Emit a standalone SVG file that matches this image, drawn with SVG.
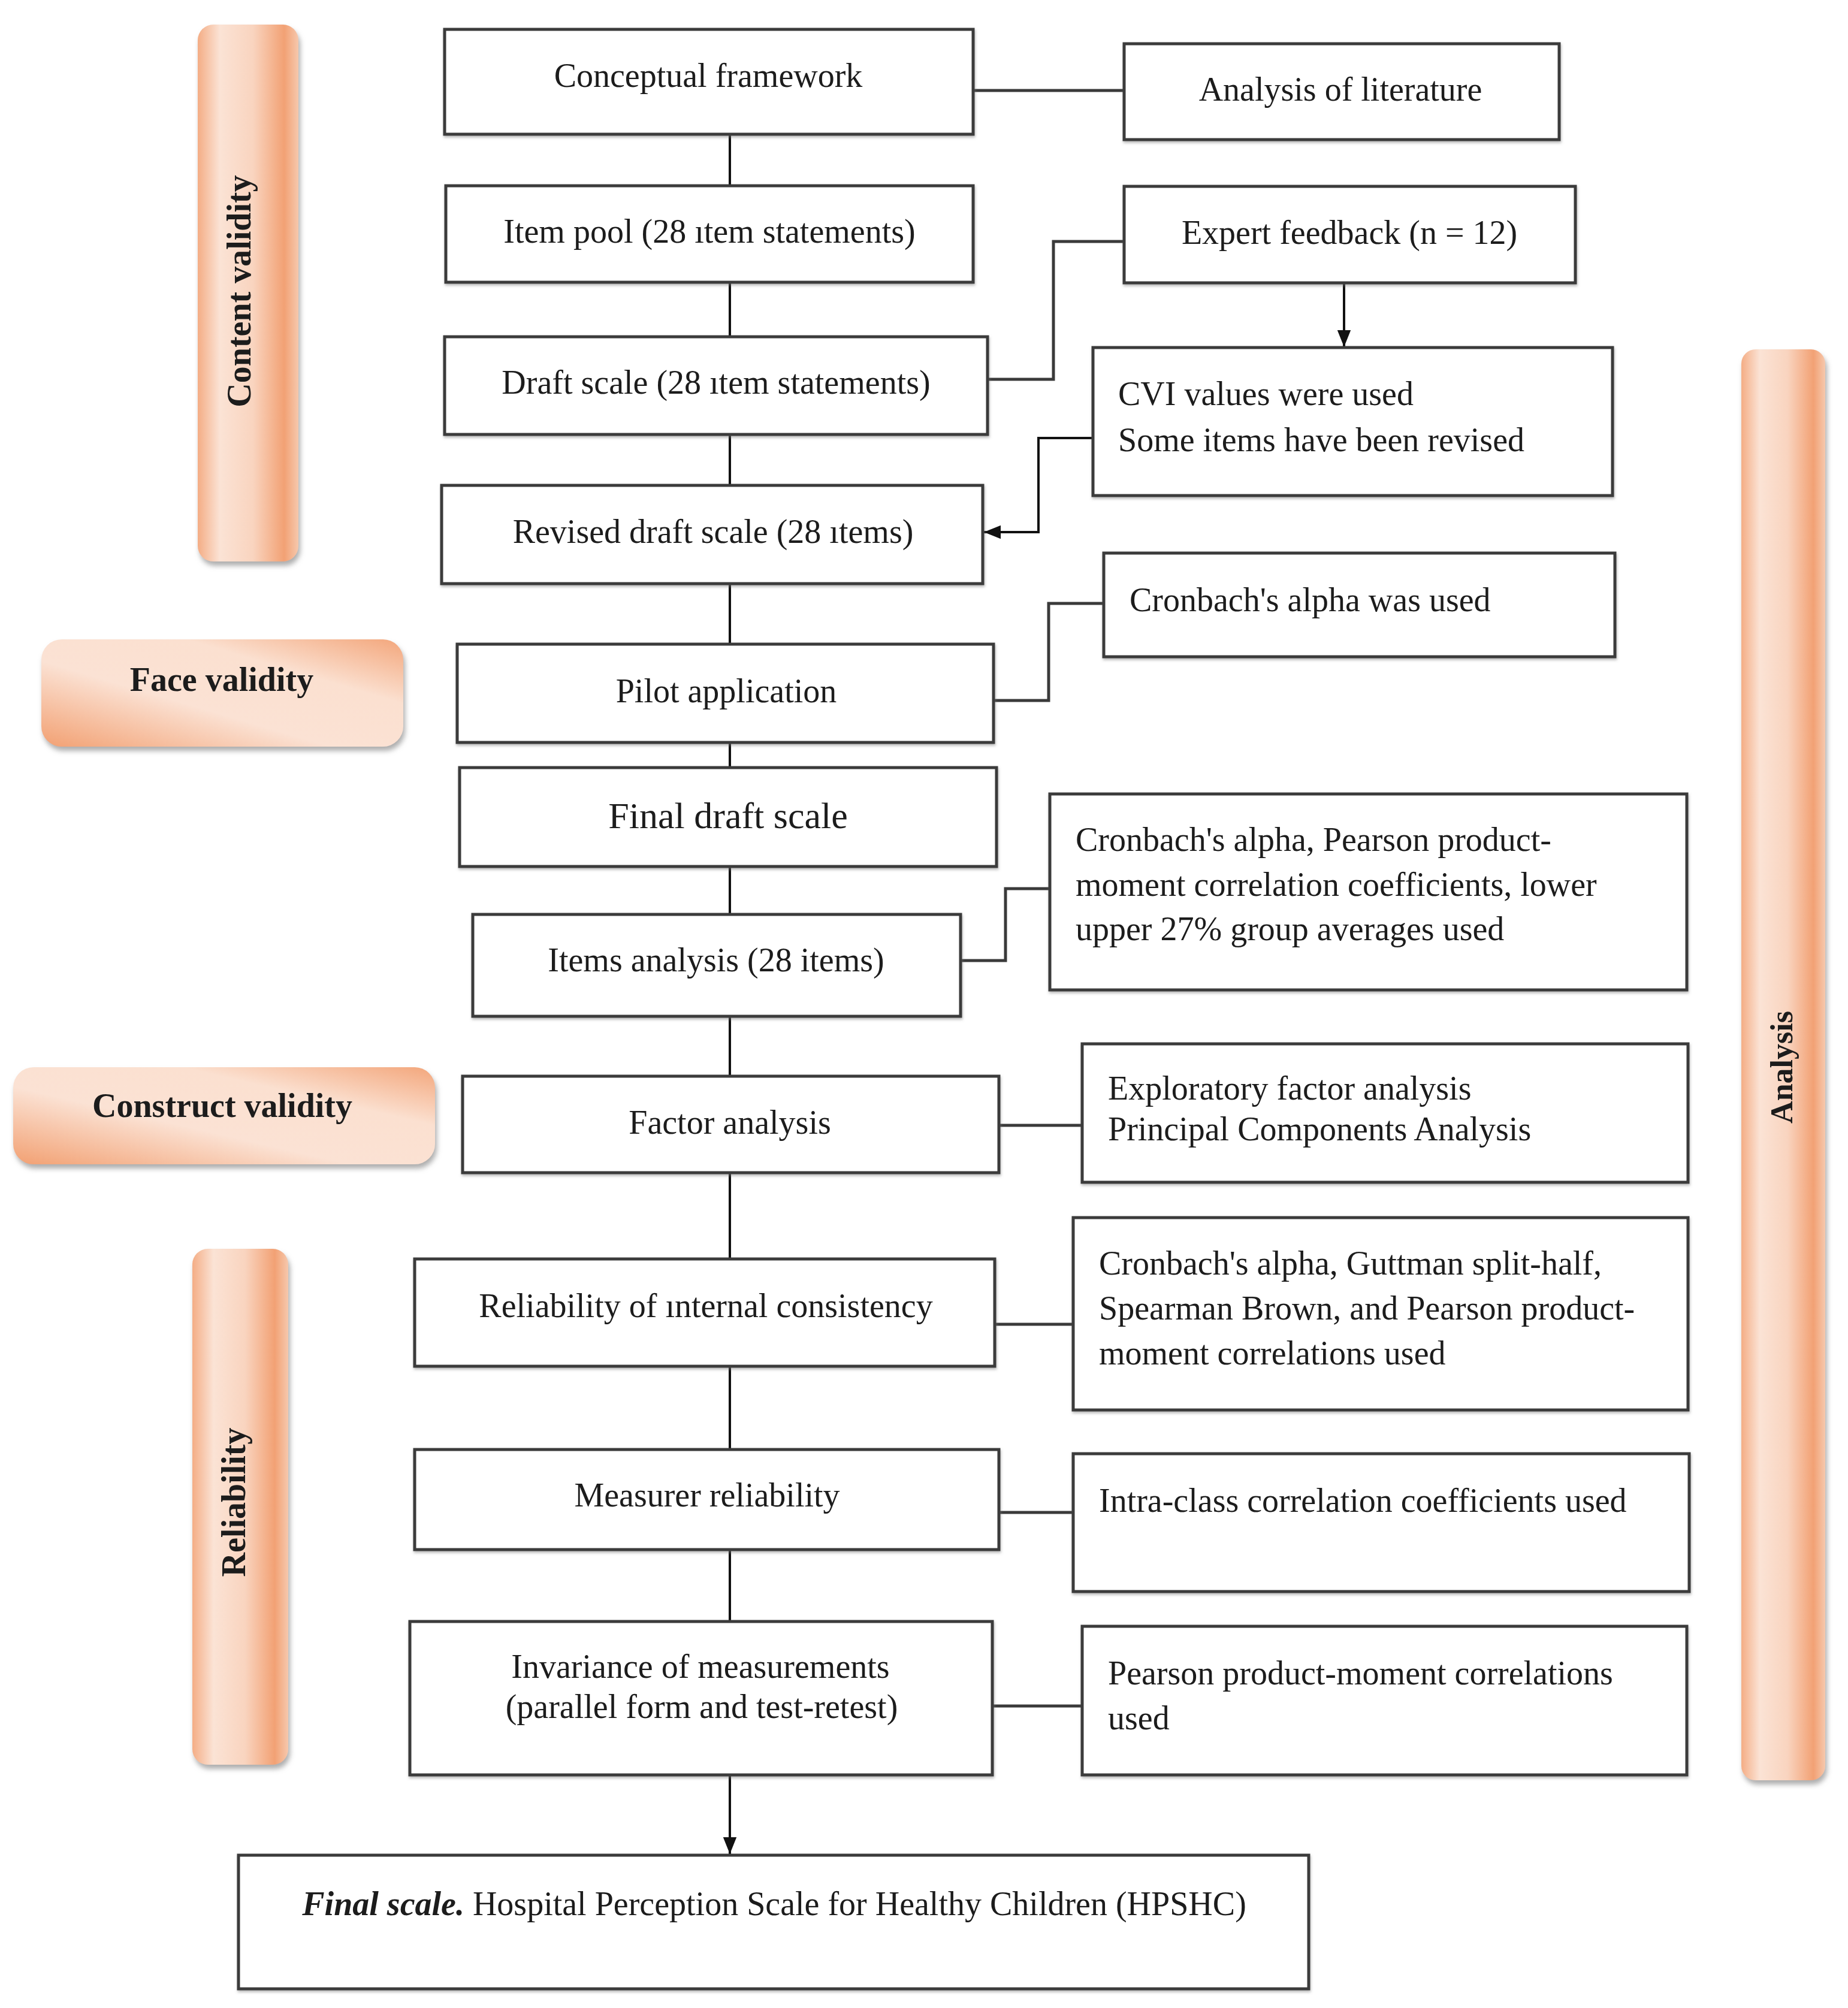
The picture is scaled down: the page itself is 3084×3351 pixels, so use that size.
<svg xmlns="http://www.w3.org/2000/svg" width="3084" height="3351" viewBox="0 0 3084 3351">
<style>
.box{fill:#fff;stroke:#3a3a3a;stroke-width:5}
.t{font-family:"Liberation Serif","Times New Roman",serif;font-size:56px;fill:#1a1a1a}
.c{text-anchor:middle}
.b{font-family:"Liberation Serif","Times New Roman",serif;font-size:56px;font-weight:bold;fill:#1a1a1a;text-anchor:middle}
.ln{fill:none;stroke:#3a3a3a;stroke-width:5}
.vl{fill:none;stroke:#111;stroke-width:4}
</style>
<defs>
<linearGradient id="gv" x1="0" y1="0" x2="1" y2="0">
<stop offset="0" stop-color="#f4ad85"/>
<stop offset="0.22" stop-color="#fbe3d5"/>
<stop offset="0.55" stop-color="#f9d4bf"/>
<stop offset="0.86" stop-color="#f2a174"/>
<stop offset="1" stop-color="#f6c8ad"/>
</linearGradient>
<linearGradient id="gh" x1="0" y1="1" x2="1" y2="0">
<stop offset="0" stop-color="#f2a072"/>
<stop offset="0.4" stop-color="#fbe2d4"/>
<stop offset="0.7" stop-color="#fbe0d0"/>
<stop offset="1" stop-color="#f3a67b"/>
</linearGradient>
<filter id="ps" x="-10%" y="-10%" width="130%" height="130%">
<feDropShadow dx="3" dy="7" stdDeviation="4" flood-color="#8a8a8a" flood-opacity="0.7"/>
</filter>
<filter id="bs" x="-5%" y="-5%" width="110%" height="115%">
<feDropShadow dx="1" dy="3" stdDeviation="2" flood-color="#777" flood-opacity="0.5"/>
</filter>
<marker id="ah" viewBox="0 0 10 10" refX="10" refY="5" markerWidth="7" markerHeight="7" markerUnits="userSpaceOnUse" orient="auto">
<path d="M0,0 L10,5 L0,10 z" fill="#111"/>
</marker>
<marker id="ah2" viewBox="0 0 10 10" refX="10" refY="5" markerWidth="28" markerHeight="28" markerUnits="userSpaceOnUse" orient="auto">
<path d="M0,1 L10,5 L0,9 z" fill="#111"/>
</marker>
</defs>

<!-- Pills -->
<g id="pill-content-validity" filter="url(#ps)">
<rect x="330" y="41" width="168" height="896" rx="26" fill="url(#gv)"/>
<text class="b" transform="translate(400,486) rotate(-90)" y="18">Content validity</text>
</g>
<g id="pill-face-validity" filter="url(#ps)">
<rect x="69" y="1067" width="604" height="179" rx="34" fill="url(#gh)"/>
<text class="b" x="370" y="1153">Face validity</text>
</g>
<g id="pill-construct-validity" filter="url(#ps)">
<rect x="22" y="1781" width="704" height="162" rx="34" fill="url(#gh)"/>
<text class="b" x="371" y="1864">Construct validity</text>
</g>
<g id="pill-reliability" filter="url(#ps)">
<rect x="321" y="2084" width="160" height="861" rx="26" fill="url(#gv)"/>
<text class="b" transform="translate(391,2507) rotate(-90)" y="18">Reliability</text>
</g>
<g id="pill-analysis" filter="url(#ps)">
<rect x="2906" y="583" width="140" height="2388" rx="24" fill="url(#gv)"/>
<text class="b" style="font-size:52px" transform="translate(2974,1781) rotate(-90)" y="17">Analysis</text>
</g>

<!-- Connectors -->
<g id="connectors">
<line class="vl" x1="1218" y1="224" x2="1218" y2="3094" marker-end="url(#ah2)"/>
<line class="ln" x1="1624" y1="151" x2="1876" y2="151"/>
<polyline class="ln" points="1648,633 1758,633 1758,403 1876,403"/>
<line class="vl" x1="2243" y1="473" x2="2243" y2="579" marker-end="url(#ah2)"/>
<polyline class="vl" points="1824,731 1733,731 1733,888 1642,888" marker-end="url(#ah2)"/>
<polyline class="ln" points="1658,1169 1750,1169 1750,1007 1842,1007"/>
<polyline class="ln" points="1603,1603 1678,1603 1678,1483 1752,1483"/>
<line class="ln" x1="1667" y1="1878" x2="1806" y2="1878"/>
<line class="ln" x1="1660" y1="2210" x2="1791" y2="2210"/>
<line class="ln" x1="1667" y1="2524" x2="1791" y2="2524"/>
<line class="ln" x1="1656" y1="2847" x2="1806" y2="2847"/>
</g>

<!-- Main column -->
<g id="n-conceptual" filter="url(#bs)">
<rect class="box" x="742" y="49" width="882" height="175"/>
<text class="t c" x="1182" y="145">Conceptual framework</text>
</g>
<g id="n-item-pool" filter="url(#bs)">
<rect class="box" x="744" y="310" width="880" height="161"/>
<text class="t c" x="1184" y="405">Item pool (28 ıtem statements)</text>
</g>
<g id="n-draft-scale" filter="url(#bs)">
<rect class="box" x="742" y="562" width="906" height="163"/>
<text class="t c" x="1195" y="657">Draft scale (28 ıtem statements)</text>
</g>
<g id="n-revised" filter="url(#bs)">
<rect class="box" x="737" y="810" width="903" height="164"/>
<text class="t c" x="1190" y="906">Revised draft scale (28 ıtems)</text>
</g>
<g id="n-pilot" filter="url(#bs)">
<rect class="box" x="763" y="1075" width="895" height="164"/>
<text class="t c" x="1212" y="1172">Pilot application</text>
</g>
<g id="n-final-draft" filter="url(#bs)">
<rect class="box" x="767" y="1281" width="896" height="165"/>
<text class="t c" style="font-size:62px" x="1215" y="1382">Final draft scale</text>
</g>
<g id="n-items-analysis" filter="url(#bs)">
<rect class="box" x="789" y="1526" width="814" height="170"/>
<text class="t c" x="1195" y="1621">Items analysis (28 items)</text>
</g>
<g id="n-factor" filter="url(#bs)">
<rect class="box" x="772" y="1796" width="895" height="161"/>
<text class="t c" x="1218" y="1892">Factor analysis</text>
</g>
<g id="n-rel-internal" filter="url(#bs)">
<rect class="box" x="692" y="2101" width="968" height="179"/>
<text class="t c" x="1178" y="2198">Reliability of ınternal consistency</text>
</g>
<g id="n-measurer" filter="url(#bs)">
<rect class="box" x="692" y="2419" width="975" height="167"/>
<text class="t c" x="1180" y="2514">Measurer reliability</text>
</g>
<g id="n-invariance" filter="url(#bs)">
<rect class="box" x="684" y="2706" width="972" height="256"/>
<text class="t c" x="1169" y="2800">Invariance of measurements</text>
<text class="t c" x="1171" y="2867">(parallel form and test-retest)</text>
</g>
<g id="n-final-scale" filter="url(#bs)">
<rect class="box" x="398" y="3096" width="1786" height="223"/>
<text class="t c" x="1292" y="3196"><tspan font-weight="bold" font-style="italic">Final scale.</tspan> Hospital Perception Scale for Healthy Children (HPSHC)</text>
</g>

<!-- Right column -->
<g id="n-literature" filter="url(#bs)">
<rect class="box" x="1876" y="73" width="726" height="160"/>
<text class="t c" x="2237" y="168">Analysis of literature</text>
</g>
<g id="n-expert" filter="url(#bs)">
<rect class="box" x="1876" y="311" width="753" height="161"/>
<text class="t c" x="2252" y="407">Expert feedback (n = 12)</text>
</g>
<g id="n-cvi" filter="url(#bs)">
<rect class="box" x="1824" y="580" width="867" height="247"/>
<text class="t" x="1866" y="676">CVI values were used</text>
<text class="t" x="1866" y="753">Some items have been revised</text>
</g>
<g id="n-cronbach" filter="url(#bs)">
<rect class="box" x="1842" y="923" width="853" height="173"/>
<text class="t" x="1885" y="1020">Cronbach's alpha was used</text>
</g>
<g id="n-items-methods" filter="url(#bs)">
<rect class="box" x="1752" y="1325" width="1063" height="327"/>
<text class="t" x="1795" y="1420">Cronbach's alpha, Pearson product-</text>
<text class="t" x="1795" y="1495">moment correlation coefficients, lower</text>
<text class="t" x="1795" y="1569">upper 27% group averages used</text>
</g>
<g id="n-factor-methods" filter="url(#bs)">
<rect class="box" x="1806" y="1742" width="1011" height="231"/>
<text class="t" x="1849" y="1835">Exploratory factor analysis</text>
<text class="t" x="1849" y="1903">Principal Components Analysis</text>
</g>
<g id="n-internal-methods" filter="url(#bs)">
<rect class="box" x="1791" y="2032" width="1026" height="321"/>
<text class="t" x="1834" y="2127">Cronbach's alpha, Guttman split-half,</text>
<text class="t" x="1834" y="2202">Spearman Brown, and Pearson product-</text>
<text class="t" x="1834" y="2277">moment correlations used</text>
</g>
<g id="n-intraclass" filter="url(#bs)">
<rect class="box" x="1791" y="2426" width="1028" height="230"/>
<text class="t" x="1834" y="2523">Intra-class correlation coefficients used</text>
</g>
<g id="n-pearson" filter="url(#bs)">
<rect class="box" x="1806" y="2714" width="1009" height="248"/>
<text class="t" x="1849" y="2811">Pearson product-moment correlations</text>
<text class="t" x="1849" y="2886">used</text>
</g>
</svg>
